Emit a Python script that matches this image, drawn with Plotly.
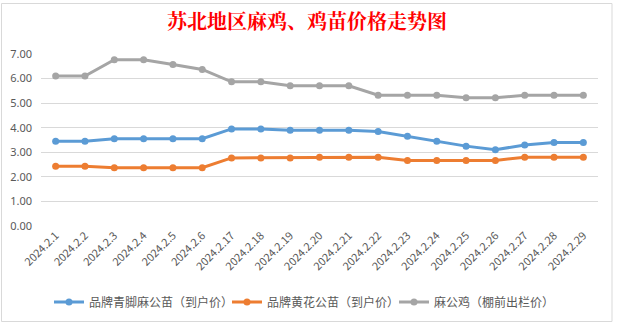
import plotly.graph_objects as go

dates = ["2024.2.1", "2024.2.2", "2024.2.3", "2024.2.4", "2024.2.5", "2024.2.6",
         "2024.2.17", "2024.2.18", "2024.2.19", "2024.2.20", "2024.2.21", "2024.2.22",
         "2024.2.23", "2024.2.24", "2024.2.25", "2024.2.26", "2024.2.27", "2024.2.28", "2024.2.29"]

blue_name = "品牌青脚麻公苗（到户价）"
blue_vals = [3.45, 3.45, 3.55, 3.55, 3.55, 3.55, 3.95, 3.95, 3.90, 3.90, 3.90, 3.85,
             3.65, 3.45, 3.25, 3.10, 3.30, 3.40, 3.40]

orange_name = "品牌黄花公苗（到户价）"
orange_vals = [2.43, 2.43, 2.37, 2.37, 2.37, 2.37, 2.77, 2.77, 2.77, 2.80, 2.80, 2.80,
               2.67, 2.67, 2.67, 2.67, 2.80, 2.80, 2.80]

gray_name = "麻公鸡（棚前出栏价）"
gray_vals = [6.10, 6.10, 6.77, 6.77, 6.57, 6.37, 5.87, 5.87, 5.71, 5.71, 5.71, 5.32,
             5.32, 5.32, 5.22, 5.22, 5.32, 5.32, 5.32]

yticks = [0, 1, 2, 3, 4, 5, 6, 7]
title_text = "苏北地区麻鸡、鸡苗价格走势图"

FONT = "Noto Sans CJK SC, Microsoft YaHei, sans-serif"

L, R, T, B = 41, 19, 54, 98
W, H = 617, 324
pw = W - L - R
ph = H - T - B

def px_x(p):
    return (p - L) / pw

def px_y(p):
    return (H - B - p) / ph

series = [(blue_name, blue_vals, "#5B9BD5", "legend", 49),
          (orange_name, orange_vals, "#ED7D31", "legend2", 227),
          (gray_name, gray_vals, "#A5A5A5", "legend3", 394)]

fig = go.Figure()
legends = {}
for name, vals, col, lg, lx in series:
    fig.add_trace(go.Scatter(x=dates, y=vals, name=name, mode="lines+markers",
                             line=dict(color=col, width=3),
                             marker=dict(color=col, size=7), legend=lg))
    legends[lg] = dict(orientation="h", x=px_x(lx), xanchor="left",
                       y=px_y(302), yanchor="middle",
                       font=dict(size=12, color="#595959"),
                       bgcolor="rgba(0,0,0,0)", borderwidth=0)

fig.update_layout(
    width=W, height=H,
    margin=dict(l=L, r=R, t=T, b=B, autoexpand=False),
    paper_bgcolor="white", plot_bgcolor="white",
    font=dict(family=FONT, size=11, color="#595959"),
    title=dict(text=title_text, x=px_x(307), xref="paper", xanchor="center",
               y=(H - 22) / H, yanchor="middle",
               font=dict(family="Noto Serif CJK SC, Noto Sans CJK SC, serif",
                         size=20, color="#FF0000", weight="bold")),
    xaxis=dict(type="category", range=[-0.5, len(dates) - 0.5], tickangle=-45,
               showgrid=False, showline=False, ticks="", zeroline=False,
               tickfont=dict(size=11, color="#595959")),
    yaxis=dict(range=[0, 7], tickvals=yticks, tickformat=".2f",
               showgrid=True, gridcolor="#D9D9D9", gridwidth=1,
               zeroline=False, showline=False, ticks="", ticklabelstandoff=8,
               tickfont=dict(family="Noto Sans, sans-serif", size=11, color="#595959")),
    showlegend=True,
    **legends,
)

fig.add_shape(type="rect", xref="paper", yref="paper",
              x0=px_x(1.5), x1=px_x(612), y0=px_y(321.5), y1=px_y(3.5),
              line=dict(color="#D9D9D9", width=1), fillcolor="rgba(0,0,0,0)", layer="below")

fig.write_html("out.html")
